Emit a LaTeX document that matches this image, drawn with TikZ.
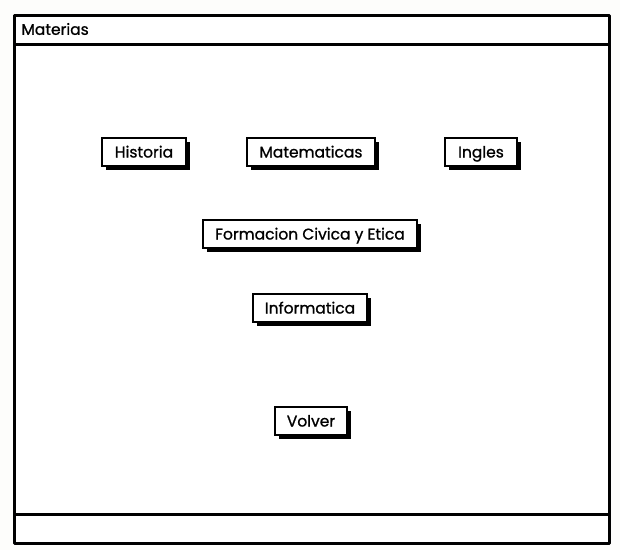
\documentclass[tikz,border=0pt]{standalone}
\usepackage{fontspec}
\setmainfont{Poppins}[FakeBold=1]
\usetikzlibrary{shadows}
\definecolor{paper}{HTML}{FDFDFB}
\tikzset{
  frameline/.style={line width=3pt, line join=round},
  btn/.style={draw, fill=white, line width=2.4pt, minimum height=28pt,
    inner xsep=6pt, text height=11pt, text depth=0pt,
    font=\fontsize{15.5}{18}\selectfont,
    drop shadow={shadow xshift=4pt, shadow yshift=-4pt, fill=black, opacity=1}},
}
\begin{document}
\begin{tikzpicture}[x=1pt,y=-1pt]
    \fill[paper] (0,0) rectangle (620,550);
    \useasboundingbox (0,0) rectangle (620,550);
    % window frame
    \coordinate (tl) at (14,15);
    \coordinate (br) at (609,543);
    \draw[frameline, fill=white] (tl) rectangle (br);
    \draw[frameline] (14,44) -- (609,44);
    \draw[frameline] (14,514) -- (609,514);
    \node[anchor=west, font=\fontsize{15.5}{18}\selectfont] (title) at (18,29) {Materias};
    % buttons
    \node[btn, minimum width=84pt] (historia) at (144,152) {Historia};
    \node[btn, minimum width=128pt] (mate) at (311,152) {Matematicas};
    \node[btn, minimum width=72pt] (ingles) at (481,152) {Ingles};
    \node[btn, minimum width=214pt] (civica) at (310,234) {Formacion Civica y Etica};
    \node[btn, minimum width=114pt] (info) at (310,308) {Informatica};
    \node[btn, minimum width=72pt] (volver) at (311,421) {Volver};
\end{tikzpicture}
\end{document}
